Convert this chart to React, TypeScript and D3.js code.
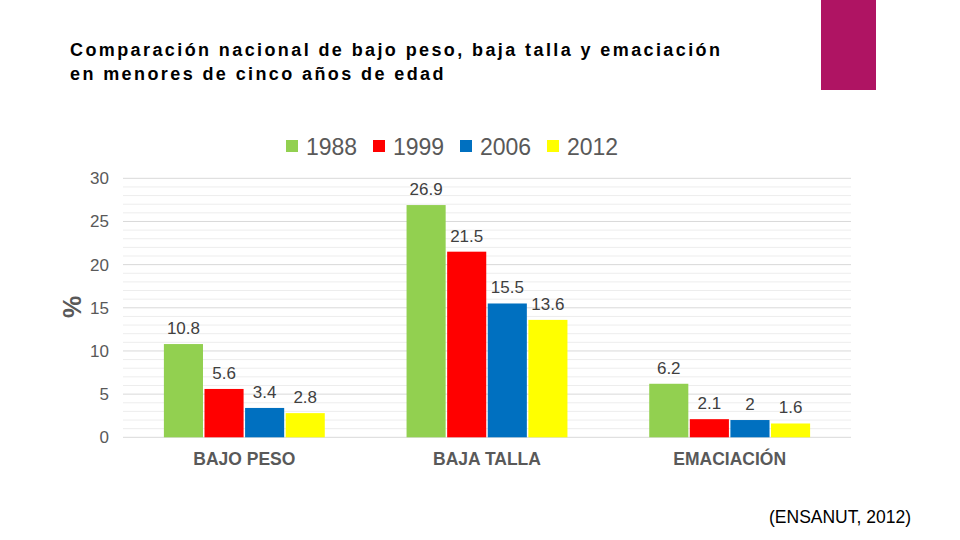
import React from "react";
import * as d3 from "d3";

const categories = ["BAJO PESO", "BAJA TALLA", "EMACIACIÓN"];
const years = ["1988", "1999", "2006", "2012"];
const colors = ["#92D050", "#FF0000", "#0070C0", "#FFFF00"];
const values1988 = [10.8, 26.9, 6.2];
const values1999 = [5.6, 21.5, 2.1];
const values2006 = [3.4, 15.5, 2];
const values2012 = [2.8, 13.6, 1.6];
const seriesValues = [values1988, values1999, values2006, values2012];
const yTicks = [0, 5, 10, 15, 20, 25, 30];

const FONT = "'Liberation Sans', Arial, sans-serif";

export default function App() {
  const W = 960;
  const H = 540;
  const left = 123;
  const right = 851;
  const top = 178.3;
  const bottom = 437.3;

  const x0 = d3
    .scaleBand<string>()
    .domain(categories)
    .range([left, right])
    .paddingInner(0.337)
    .paddingOuter(0.337 / 2);
  const x1 = d3
    .scaleBand<string>()
    .domain(years)
    .range([0, x0.bandwidth()])
    .paddingInner(0.037)
    .paddingOuter(0);
  const y = d3.scaleLinear().domain([0, 30]).range([bottom, top]);
  const minor = d3.range(0, 31, 1);

  const fmt = (v: number) => String(v);

  return (
    <svg
      width={W}
      height={H}
      viewBox={`0 0 ${W} ${H}`}
      style={{ position: "absolute", left: 0, top: 0, background: "#fff" }}
    >
      <rect x={0} y={0} width={W} height={H} fill="#fff" />
      <rect x={821} y={0} width={55} height={90} fill="#AF1463" />

      <text x={70} y={56} fontFamily={FONT} fontWeight="bold" fontSize={18} letterSpacing={2.4} fill="#000">
        Comparación nacional de bajo peso, baja talla y emaciación
      </text>
      <text x={70} y={80} fontFamily={FONT} fontWeight="bold" fontSize={18} letterSpacing={2.4} fill="#000">
        en menores de cinco años de edad
      </text>

      {/* legend */}
      {years.map((yr, i) => (
        <g key={yr} transform={`translate(${286 + i * 87},0)`}>
          <rect x={0} y={140} width={12} height={12} fill={colors[i]} />
          <text x={20} y={155} fontFamily={FONT} fontSize={23} fill="#595959">
            {yr}
          </text>
        </g>
      ))}

      {/* grid */}
      {minor.map((v) => (
        <line
          key={"m" + v}
          x1={left}
          x2={right}
          y1={y(v)}
          y2={y(v)}
          stroke={v % 5 === 0 ? "#D9D9D9" : "#EDEDED"}
          strokeWidth={1}
        />
      ))}

      {/* y ticks */}
      {yTicks.map((t) => (
        <text
          key={"t" + t}
          x={109}
          y={y(t) + 6}
          textAnchor="end"
          fontFamily={FONT}
          fontSize={17}
          fill="#595959"
        >
          {t}
        </text>
      ))}

      <text
        transform="translate(81,307) rotate(-90)"
        textAnchor="middle"
        fontFamily={FONT}
        fontWeight="bold"
        fontSize={25}
        fill="#595959"
      >
        %
      </text>

      {/* bars */}
      {categories.map((c, ci) => (
        <g key={c} transform={`translate(${x0(c)},0)`}>
          {years.map((yr, si) => {
            const v = seriesValues[si][ci];
            const bx = x1(yr) as number;
            return (
              <g key={yr}>
                <rect
                  x={bx}
                  y={y(v)}
                  width={x1.bandwidth()}
                  height={bottom - y(v)}
                  fill={colors[si]}
                />
                <text
                  x={bx + x1.bandwidth() / 2}
                  y={y(v) - 10}
                  textAnchor="middle"
                  fontFamily={FONT}
                  fontSize={17}
                  fill="#404040"
                >
                  {fmt(v)}
                </text>
              </g>
            );
          })}
          <text
            x={x0.bandwidth() / 2}
            y={465}
            textAnchor="middle"
            fontFamily={FONT}
            fontWeight="bold"
            fontSize={17.5}
            fill="#595959"
          >
            {c}
          </text>
        </g>
      ))}

      <text x={769} y={523} fontFamily={FONT} fontSize={17.5} fill="#000">
        (ENSANUT, 2012)
      </text>
    </svg>
  );
}
